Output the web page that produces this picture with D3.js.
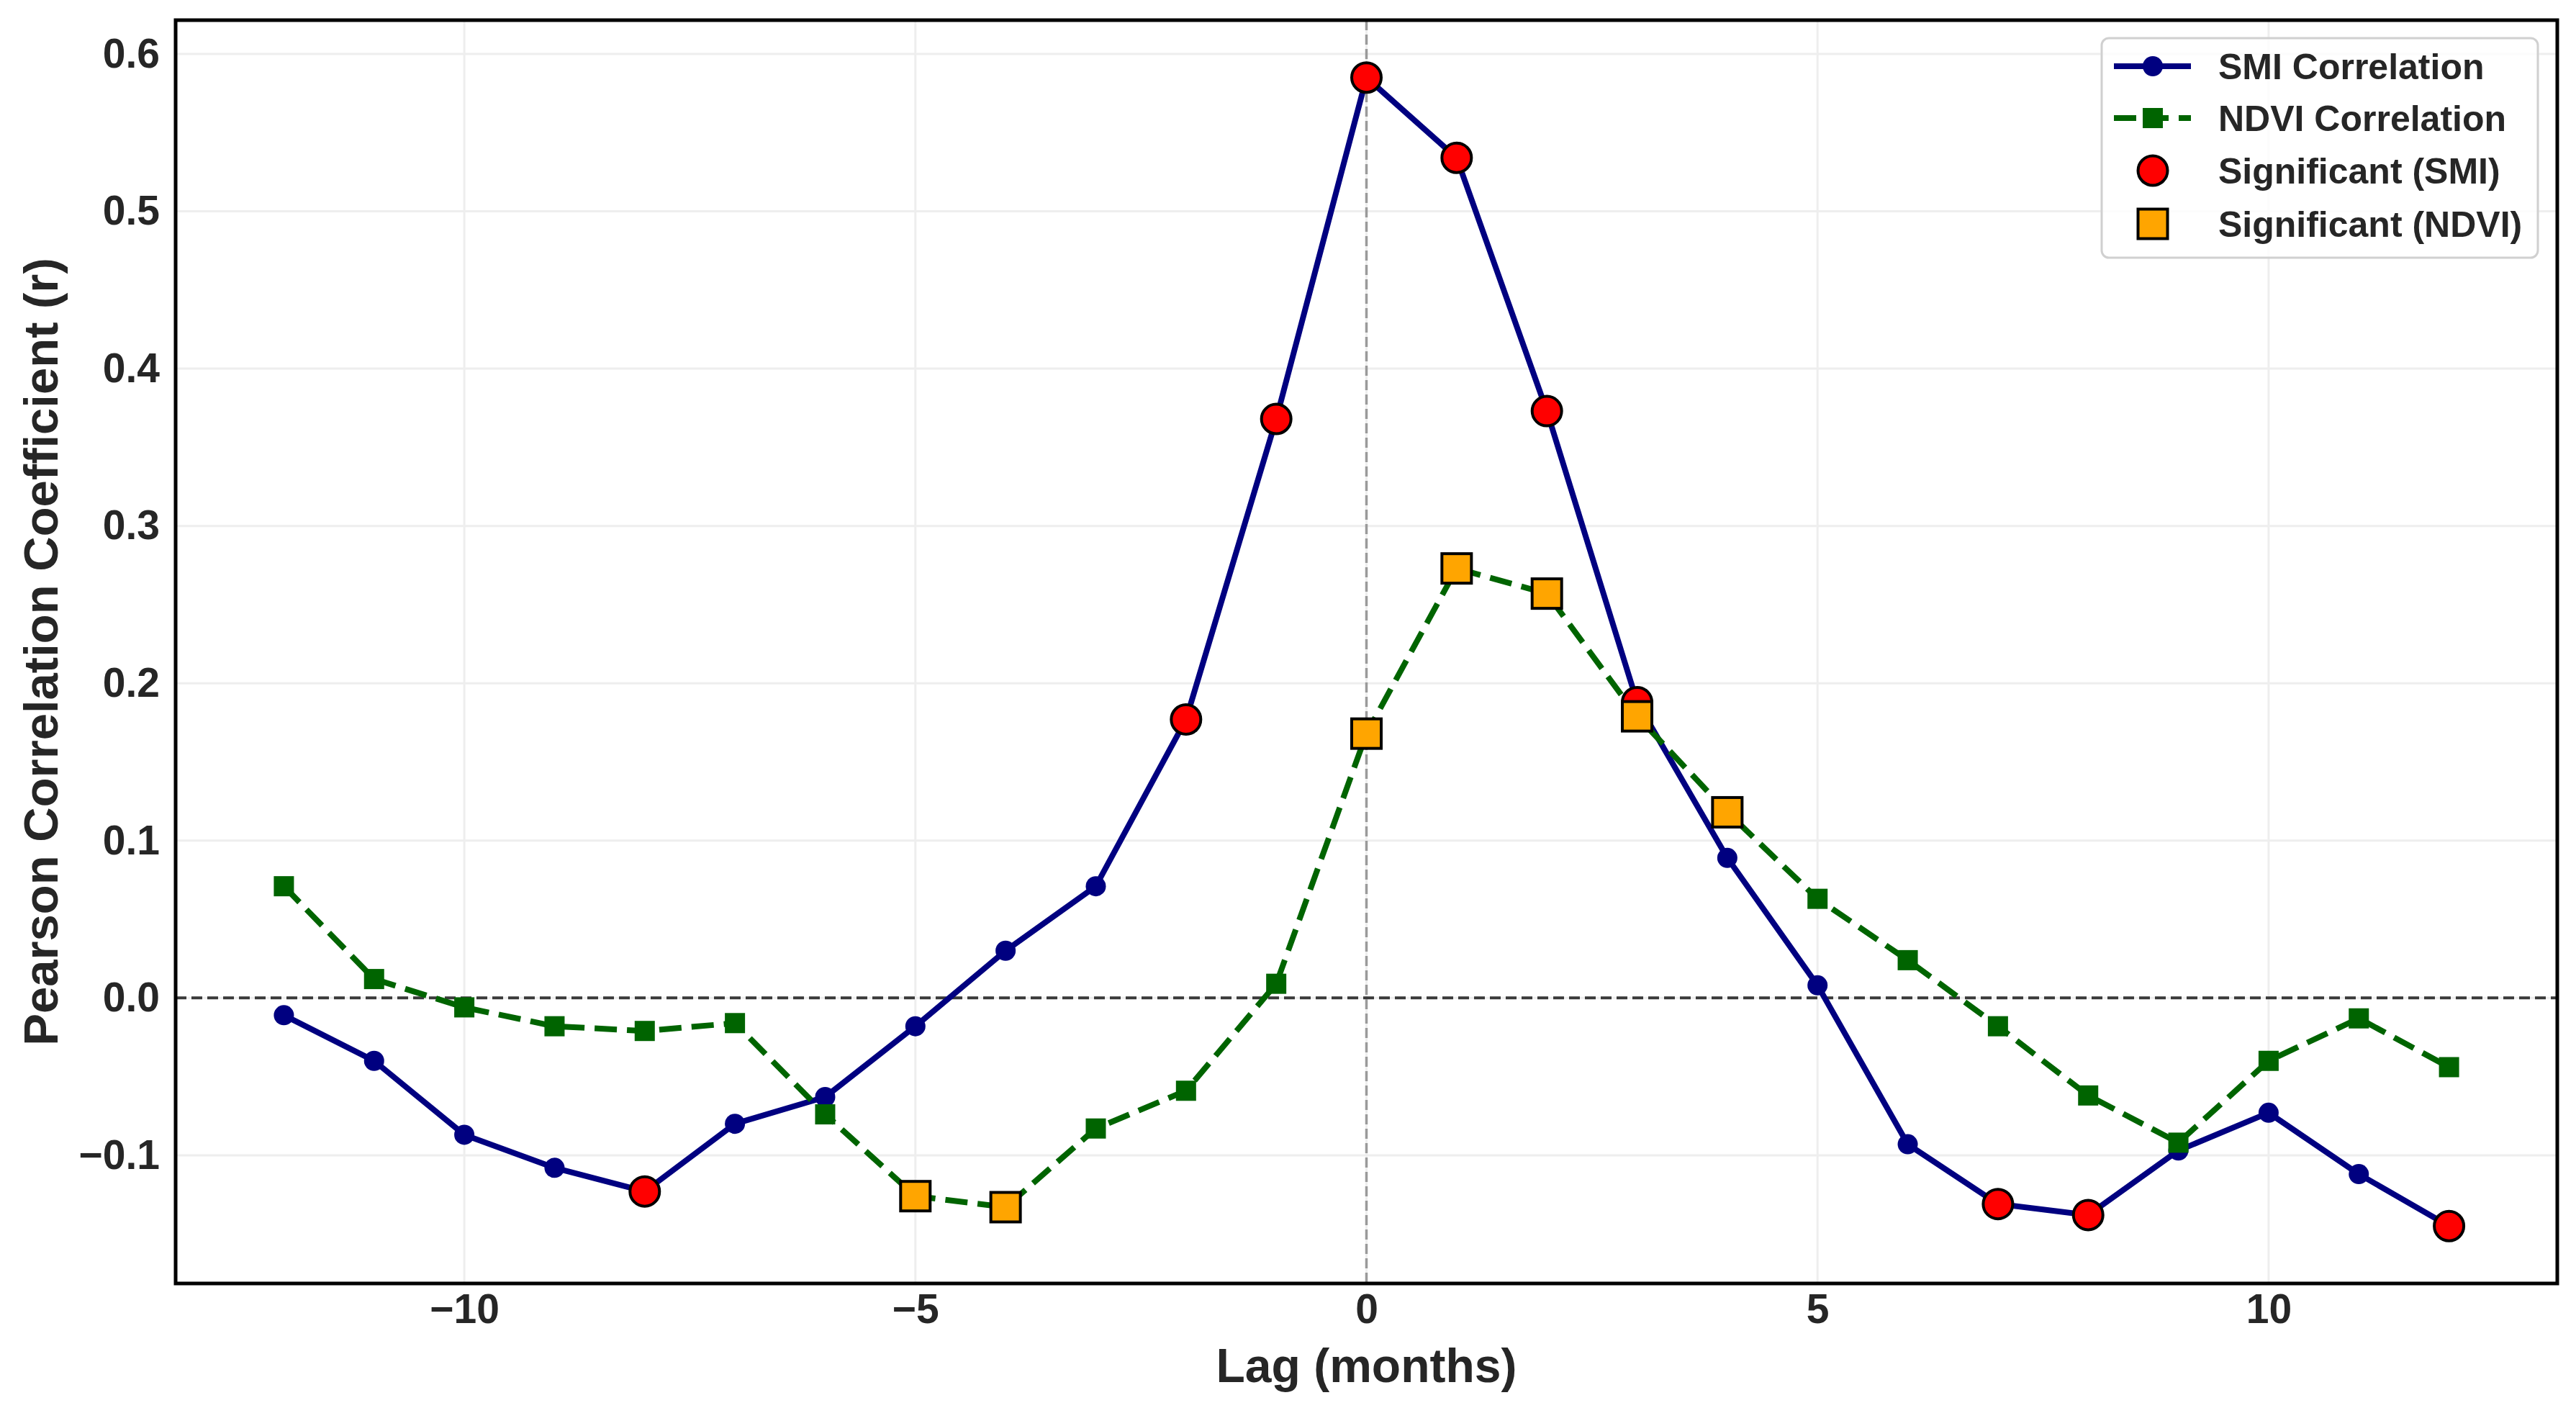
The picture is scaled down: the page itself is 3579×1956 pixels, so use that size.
<!DOCTYPE html>
<html>
<head>
<meta charset="utf-8">
<script src="https://cdn.jsdelivr.net/npm/d3@7"></script>
<style>
  body { margin: 0; background: #fff; }
  text { font-family: "Liberation Sans", Arial, sans-serif; font-weight: bold; }
</style>
</head>
<body>
<div id="chart"></div>
<script>
// lag in months and the two correlation series
var lags = [-12, -11, -10, -9, -8, -7, -6, -5, -4, -3, -2, -1, 0, 1, 2, 3, 4, 5, 6, 7, 8, 9, 10, 11, 12];
var smiCorr = [-0.011, -0.040, -0.087, -0.108, -0.123, -0.080, -0.063, -0.018, 0.030, 0.071, 0.177, 0.368,
               0.585, 0.534, 0.373, 0.188, 0.089, 0.008, -0.093, -0.131, -0.138, -0.097, -0.073, -0.112, -0.145];
var ndviCorr = [0.071, 0.012, -0.006, -0.018, -0.021, -0.016, -0.074, -0.126, -0.133, -0.083, -0.059, 0.009,
                0.168, 0.273, 0.257, 0.179, 0.118, 0.063, 0.024, -0.018, -0.062, -0.092, -0.040, -0.013, -0.044];
var smiSignificant = [-8, -2, -1, 0, 1, 2, 3, 7, 8, 12];
var ndviSignificant = [-5, -4, 0, 1, 2, 3, 4];

var xTicks = [-10, -5, 0, 5, 10];
var yTicks = [-0.1, 0.0, 0.1, 0.2, 0.3, 0.4, 0.5, 0.6];
var legendLabels = ["SMI Correlation", "NDVI Correlation", "Significant (SMI)", "Significant (NDVI)"];

var width = 3579;
var height = 1956;
var margin = {top: 28, right: 26, bottom: 173, left: 244};

var smiColor = "#000080";
var ndviColor = "#006400";
var lineStroke = 8;
var smallMarker = 14;
var bigMarker = 20.5;

var smiData = lags.map((l, i) => ({lag: l, value: smiCorr[i]}));
var ndviData = lags.map((l, i) => ({lag: l, value: ndviCorr[i]}));

/* Scales, padded 5% like matplotlib */
var xExt = d3.extent(lags);
var xPad = (xExt[1] - xExt[0]) * 0.05;
var xScale = d3.scaleLinear()
  .domain([xExt[0] - xPad, xExt[1] + xPad])
  .range([margin.left, width - margin.right]);

var yExt = d3.extent(smiCorr.concat(ndviCorr));
var yPad = (yExt[1] - yExt[0]) * 0.05;
var yScale = d3.scaleLinear()
  .domain([yExt[0] - yPad, yExt[1] + yPad])
  .range([height - margin.bottom, margin.top]);

var svg = d3.select("#chart").append("svg")
  .attr("width", width)
  .attr("height", height);

var x0 = margin.left, x1 = width - margin.right;
var y0 = margin.top, y1 = height - margin.bottom;

/* Grid */
var grid = svg.append("g").attr("class", "grid")
  .attr("stroke", "#eeeeee").attr("stroke-width", 3);
grid.selectAll(".gx").data(xTicks).enter().append("line")
  .attr("x1", d => xScale(d)).attr("x2", d => xScale(d))
  .attr("y1", y0).attr("y2", y1);
grid.selectAll(".gy").data(yTicks).enter().append("line")
  .attr("x1", x0).attr("x2", x1)
  .attr("y1", d => yScale(d)).attr("y2", d => yScale(d));

/* Reference lines */
svg.append("line")
  .attr("x1", x0).attr("x2", x1)
  .attr("y1", yScale(0)).attr("y2", yScale(0))
  .attr("stroke", "#3a3a3a").attr("stroke-width", 4)
  .attr("stroke-dasharray", "15,7");
svg.append("line")
  .attr("x1", xScale(0)).attr("x2", xScale(0))
  .attr("y1", y0).attr("y2", y1)
  .attr("stroke", "#9a9a9a").attr("stroke-width", 3.5)
  .attr("stroke-dasharray", "14,6");

var line = d3.line()
  .x(d => xScale(d.lag))
  .y(d => yScale(d.value));

/* SMI series */
svg.append("path")
  .attr("d", line(smiData))
  .attr("fill", "none")
  .attr("stroke", smiColor)
  .attr("stroke-width", lineStroke)
  .attr("stroke-linejoin", "round");
svg.append("g").selectAll("circle")
  .data(smiData).enter().append("circle")
  .attr("cx", d => xScale(d.lag))
  .attr("cy", d => yScale(d.value))
  .attr("r", smallMarker)
  .attr("fill", smiColor);

/* NDVI series */
svg.append("path")
  .attr("d", line(ndviData))
  .attr("fill", "none")
  .attr("stroke", ndviColor)
  .attr("stroke-width", lineStroke)
  .attr("stroke-dasharray", "31,14");
svg.append("g").selectAll("rect")
  .data(ndviData).enter().append("rect")
  .attr("x", d => xScale(d.lag) - smallMarker)
  .attr("y", d => yScale(d.value) - smallMarker)
  .attr("width", smallMarker * 2)
  .attr("height", smallMarker * 2)
  .attr("fill", ndviColor);

/* Significant points */
svg.append("g").selectAll("circle")
  .data(smiData.filter(d => smiSignificant.includes(d.lag))).enter().append("circle")
  .attr("cx", d => xScale(d.lag))
  .attr("cy", d => yScale(d.value))
  .attr("r", bigMarker)
  .attr("fill", "#ff0000")
  .attr("stroke", "#000").attr("stroke-width", 4);
svg.append("g").selectAll("rect")
  .data(ndviData.filter(d => ndviSignificant.includes(d.lag))).enter().append("rect")
  .attr("x", d => xScale(d.lag) - bigMarker)
  .attr("y", d => yScale(d.value) - bigMarker)
  .attr("width", bigMarker * 2)
  .attr("height", bigMarker * 2)
  .attr("fill", "#ffa500")
  .attr("stroke", "#000").attr("stroke-width", 4);

/* Frame */
svg.append("rect")
  .attr("x", x0).attr("y", y0)
  .attr("width", x1 - x0).attr("height", y1 - y0)
  .attr("fill", "none").attr("stroke", "#000").attr("stroke-width", 5);

/* Axes (labels only) */
var xAxis = d3.axisBottom(xScale).tickValues(xTicks).tickSize(0).tickPadding(15).tickFormat(d3.format("d"));
var yAxis = d3.axisLeft(yScale).tickValues(yTicks).tickSize(0).tickPadding(22).tickFormat(d3.format(".1f"));

var gx = svg.append("g")
  .attr("transform", `translate(0, ${y1})`)
  .call(xAxis);
var gy = svg.append("g")
  .attr("transform", `translate(${x0}, 0)`)
  .call(yAxis);
[gx, gy].forEach(g => {
  g.select(".domain").remove();
  g.attr("font-size", 57).attr("font-family", null)
    .selectAll("text").attr("fill", "#262626");
});

svg.append("text")
  .attr("x", (x0 + x1) / 2)
  .attr("y", 1920)
  .attr("text-anchor", "middle")
  .attr("font-size", 66)
  .attr("fill", "#262626")
  .text("Lag (months)");

svg.append("text")
  .attr("transform", `translate(80, ${(y0 + y1) / 2}) rotate(-90)`)
  .attr("text-anchor", "middle")
  .attr("font-size", 67)
  .attr("fill", "#262626")
  .text("Pearson Correlation Coefficient (r)");

/* Legend */
var legendX = 2920, legendY = 53, legendW = 606, legendH = 305;
var legend = svg.append("g").attr("class", "legend");
legend.append("rect")
  .attr("x", legendX).attr("y", legendY)
  .attr("width", legendW).attr("height", legendH)
  .attr("rx", 10)
  .attr("fill", "#fff").attr("fill-opacity", 0.8)
  .attr("stroke", "#d0d0d0").attr("stroke-width", 3);

var rowY = [92, 164, 237, 311];
var handleX0 = 2937, handleX1 = 3044, handleMid = 2991;

legend.selectAll(".item")
  .data(legendLabels).enter()
  .append("g")
  .attr("class", "item")
  .attr("transform", (d, i) => `translate(0, ${rowY[i]})`)
  .each(function(d, i) {
    var g = d3.select(this);
    if (i === 0) {
      g.append("line").attr("x1", handleX0).attr("x2", handleX1)
        .attr("stroke", smiColor).attr("stroke-width", lineStroke);
      g.append("circle").attr("cx", handleMid).attr("r", smallMarker).attr("fill", smiColor);
    } else if (i === 1) {
      g.append("line").attr("x1", handleX0).attr("x2", handleX1)
        .attr("stroke", ndviColor).attr("stroke-width", lineStroke)
        .attr("stroke-dasharray", "31,14");
      g.append("rect").attr("x", handleMid - smallMarker).attr("y", -smallMarker)
        .attr("width", smallMarker * 2).attr("height", smallMarker * 2).attr("fill", ndviColor);
    } else if (i === 2) {
      g.append("circle").attr("cx", handleMid).attr("r", bigMarker)
        .attr("fill", "#ff0000").attr("stroke", "#000").attr("stroke-width", 4);
    } else {
      g.append("rect").attr("x", handleMid - bigMarker).attr("y", -bigMarker)
        .attr("width", bigMarker * 2).attr("height", bigMarker * 2)
        .attr("fill", "#ffa500").attr("stroke", "#000").attr("stroke-width", 4);
    }
    g.append("text")
      .attr("x", 3082)
      .attr("y", 0)
      .attr("dy", "0.36em")
      .attr("font-size", 50)
      .attr("fill", "#262626")
      .text(d);
  });
</script>
</body>
</html>
